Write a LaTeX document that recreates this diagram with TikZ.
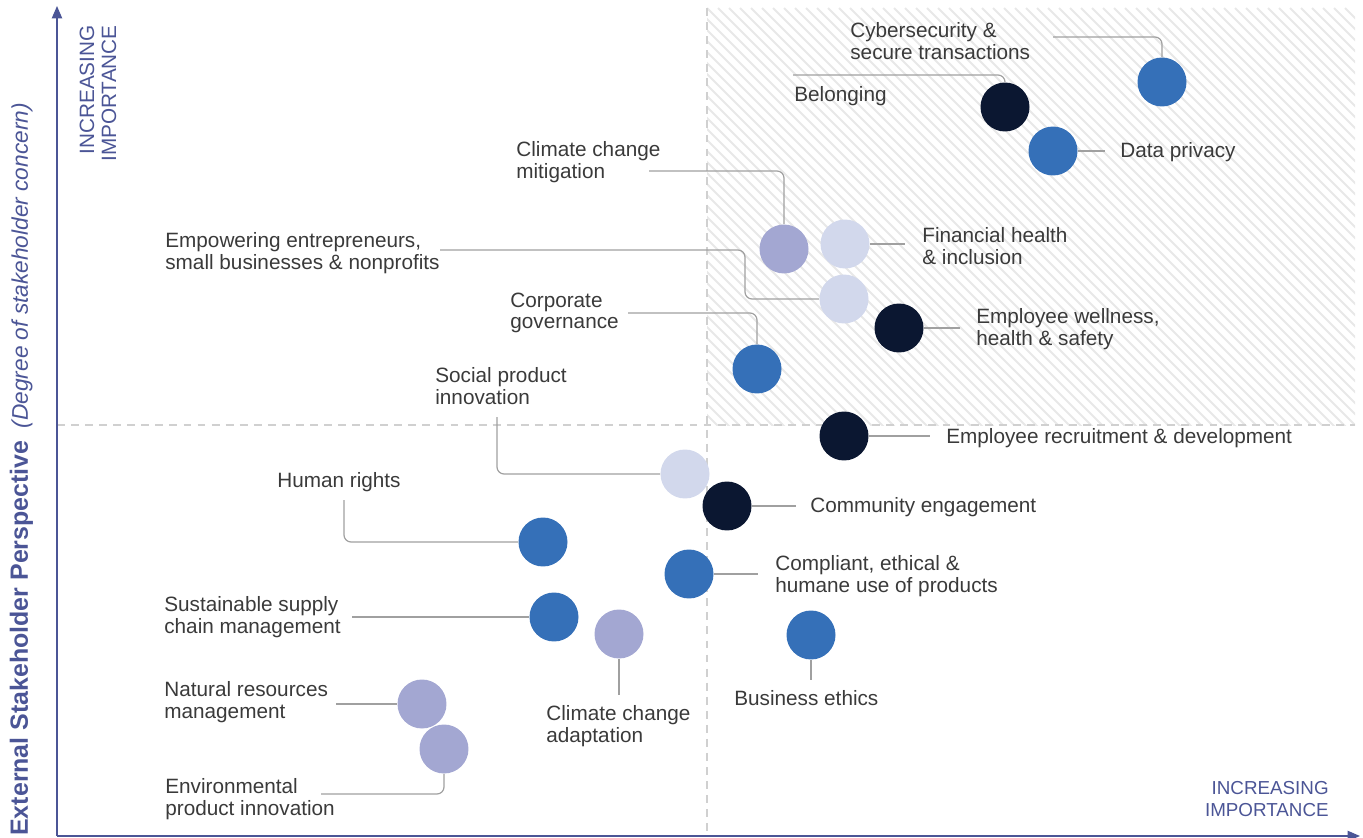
\documentclass[tikz,border=0pt]{standalone}
\usepackage{fontspec}
\setmainfont{Liberation Sans}
\usetikzlibrary{arrows.meta}

\definecolor{cblue}{HTML}{3570B8}
\definecolor{cnavy}{HTML}{0B1731}
\definecolor{clav}{HTML}{A3A7D2}
\definecolor{cpale}{HTML}{D2D8EC}
\definecolor{caxis}{HTML}{4B5596}
\definecolor{ctext}{HTML}{3A3A3A}
\definecolor{clead}{HTML}{A0A0A0}
\definecolor{cgrid}{HTML}{D0D0D0}
\definecolor{chatch}{HTML}{E8E8E8}

\tikzset{
  issue/.style={circle, minimum size=0.98cm, inner sep=0pt},
  lbl/.style={anchor=west, align=left, inner sep=0pt, text=ctext,
    font=\fontsize{11.8}{12.2}\selectfont},
  lead/.style={draw=clead, line width=0.7pt, rounded corners=4pt},
  gridline/.style={draw=cgrid, line width=1.1pt, dash pattern=on 4.5pt off 3.5pt},
  axisline/.style={draw=caxis, line width=0.85pt, -{Triangle[length=7pt,width=5.8pt]}},
  axistxt/.style={text=caxis, align=right, inner sep=0pt,
    font=\fontsize{10.7}{12.2}\selectfont}
}

\begin{document}
\begin{tikzpicture}[x=0.02cm, y=-0.02cm]
\useasboundingbox (0,0) rectangle (1363,838);

% Define coordinates
\coordinate (O) at (57,836);
\coordinate (Ytop) at (57,6);
\coordinate (Xend) at (1360,836);

% Hatched quadrant
\begin{scope}
  \clip (707,8) rectangle (1355,425);
  \foreach \i in {-42,...,66}
    \draw[chatch, line width=1.1pt] (707+\i*11,8) -- ++(430,430);
\end{scope}

% Quadrant lines
\draw[gridline] (707,8) -- (707,836);
\draw[gridline] (57,425) -- (1355,425);

% Axes
\draw[axisline] (O) -- (Ytop);
\draw[axisline] (O) -- (Xend);

% Axis labels
\node[axistxt, rotate=90, anchor=east, font=\fontsize{11.8}{12.4}\selectfont] (incy) at (98,25) {INCREASING\\IMPORTANCE};
\node[axistxt, anchor=east] (incx) at (1329,799) {INCREASING\\IMPORTANCE};
\node[rotate=90, anchor=base west, inner sep=0pt, text=caxis] (ytitle) at (28,836)
  {{\fontsize{14.2}{16}\selectfont\bfseries External Stakeholder Perspective}\hspace{7pt}{\fontsize{12.9}{16}\selectfont\itshape (Degree of stakeholder concern)}};

% Issues
\node[issue, fill=cblue] (cyb) at (1162,82) {};
\node[issue, fill=cnavy] (bel) at (1005,107) {};
\node[issue, fill=cblue] (dat) at (1053,151) {};
\node[issue, fill=clav]  (mit) at (784,249) {};
\node[issue, fill=cpale] (fin) at (845,244) {};
\node[issue, fill=cpale] (emp) at (844,299) {};
\node[issue, fill=cnavy] (wel) at (899,328) {};
\node[issue, fill=cblue] (gov) at (757,369) {};
\node[issue, fill=cnavy] (rec) at (844,436) {};
\node[issue, fill=cpale] (soc) at (685,474) {};
\node[issue, fill=cnavy] (com) at (727,506) {};
\node[issue, fill=cblue] (hum) at (543,542) {};
\node[issue, fill=cblue] (cmp) at (689,574) {};
\node[issue, fill=cblue] (sup) at (554,617) {};
\node[issue, fill=clav]  (ada) at (619,634) {};
\node[issue, fill=cblue] (eth) at (811,635) {};
\node[issue, fill=clav]  (nat) at (422,704) {};
\node[issue, fill=clav]  (env) at (444,749) {};

% Labels
\node[lbl] (cyb-t) at (850,41) {Cybersecurity \&\\secure transactions};
\node[lbl] (bel-t) at (794,96) {Belonging};
\node[lbl] (dat-t) at (1120,152) {Data privacy};
\node[lbl] (mit-t) at (516,162) {Climate change\\mitigation};
\node[lbl] (fin-t) at (922,246) {Financial health\\\& inclusion};
\node[lbl] (emp-t) at (165,253) {Empowering entrepreneurs,\\small businesses \& nonprofits};
\node[lbl] (gov-t) at (510,313) {Corporate\\governance};
\node[lbl] (wel-t) at (976,329) {Employee wellness,\\health \& safety};
\node[lbl] (soc-t) at (435,386) {Social product\\innovation};
\node[lbl] (rec-t) at (946,438) {Employee recruitment \& development};
\node[lbl] (hum-t) at (277,482) {Human rights};
\node[lbl] (com-t) at (810,507) {Community engagement};
\node[lbl] (cmp-t) at (775,576) {Compliant, ethical \&\\humane use of products};
\node[lbl] (sup-t) at (164,617) {Sustainable supply\\chain management};
\node[lbl] (nat-t) at (164,702) {Natural resources\\management};
\node[lbl] (ada-t) at (546,726) {Climate change\\adaptation};
\node[lbl] (eth-t) at (734,698) {Business ethics};
\node[lbl] (env-t) at (165,799) {Environmental\\product innovation};

% Leader ends
\coordinate (cyb-l) at (1053,37);
\coordinate (bel-l) at (793,75);
\coordinate (dat-l) at (1105,151);
\coordinate (mit-l) at (649,171);
\coordinate (fin-l) at (905,244);
\coordinate (emp-l) at (440,250);
\coordinate (emp-k) at (745,299);
\coordinate (gov-l) at (628,313);
\coordinate (wel-l) at (960,328);
\coordinate (soc-l) at (497,417);
\coordinate (rec-l) at (930,436);
\coordinate (com-l) at (796,506);
\coordinate (hum-l) at (344,500);
\coordinate (cmp-l) at (758,574);
\coordinate (sup-l) at (352,617);
\coordinate (ada-l) at (619,695);
\coordinate (eth-l) at (811,680);
\coordinate (nat-l) at (336,704);
\coordinate (env-l) at (321,794);

% Leaders
\draw[lead] (cyb-l) -| (cyb);
\draw[lead] (bel-l) -| (bel);
\draw[lead] (dat) -- (dat-l);
\draw[lead] (mit-l) -| (mit);
\draw[lead] (fin) -- (fin-l);
\draw[lead] (emp-l) -| (emp-k) -- (emp);
\draw[lead] (gov-l) -| (gov);
\draw[lead] (wel) -- (wel-l);
\draw[lead] (soc-l) |- (soc);
\draw[lead] (rec) -- (rec-l);
\draw[lead] (com) -- (com-l);
\draw[lead] (hum-l) |- (hum);
\draw[lead] (cmp) -- (cmp-l);
\draw[lead] (sup-l) -- (sup);
\draw[lead] (ada) -- (ada-l);
\draw[lead] (eth) -- (eth-l);
\draw[lead] (nat-l) -- (nat);
\draw[lead] (env-l) -| (env);

\end{tikzpicture}
\end{document}
